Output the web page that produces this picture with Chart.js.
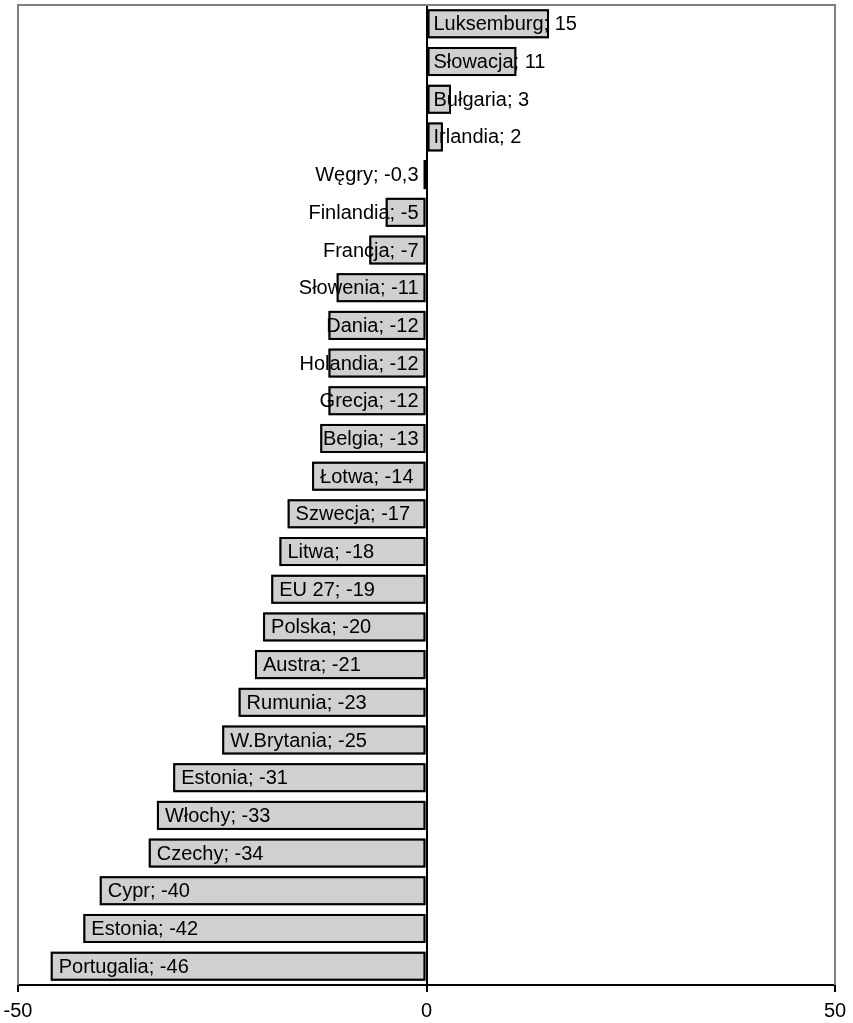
<!DOCTYPE html>
<html>
<head>
<meta charset="utf-8">
<script src="https://cdn.jsdelivr.net/npm/chart.js@4/dist/chart.umd.min.js"></script>
<style>
  html,body{margin:0;padding:0;background:#fff;}
  #wrap{width:853px;height:1023px;}
</style>
</head>
<body>
<div id="wrap"><canvas id="c" width="853" height="1023"></canvas></div>
<script>
const categories = ["Luksemburg","Słowacja","Bułgaria","Irlandia","Węgry","Finlandia","Francja","Słowenia","Dania","Holandia","Grecja","Belgia","Łotwa","Szwecja","Litwa","EU 27","Polska","Austra","Rumunia","W.Brytania","Estonia","Włochy","Czechy","Cypr","Estonia","Portugalia"];
const values = [15, 11, 3, 2, -0.3, -5, -7, -11, -12, -12, -12, -13, -14, -17, -18, -19, -20, -21, -23, -25, -31, -33, -34, -40, -42, -46];
const xTicks = [-50, 0, 50];

const FONT = '20px "Liberation Sans", Arial, sans-serif';

function fmt(v){ return String(v).replace('.', ','); }

const framePlugin = {
  id: 'frame',
  beforeDatasetsDraw(chart){
    const {ctx, chartArea:a} = chart;
    ctx.save();
    ctx.strokeStyle = '#808080';
    ctx.lineWidth = 2;
    ctx.beginPath();
    ctx.moveTo(a.left, a.bottom);
    ctx.lineTo(a.left, a.top);
    ctx.lineTo(a.right, a.top);
    ctx.lineTo(a.right, a.bottom);
    ctx.stroke();
    ctx.restore();
  }
};

const labelPlugin = {
  id: 'barLabels',
  afterDatasetsDraw(chart){
    const {ctx} = chart;
    const meta = chart.getDatasetMeta(0);
    const zero = chart.scales.x.getPixelForValue(0);
    ctx.save();
    ctx.font = FONT;
    ctx.fillStyle = '#000';
    ctx.textBaseline = 'middle';
    ctx.textAlign = 'left';
    meta.data.forEach((bar, i) => {
      const v = values[i];
      const txt = categories[i] + '; ' + fmt(v);
      const w = ctx.measureText(txt).width;
      let x;
      if (v >= 0) {
        x = zero + 7;
      } else {
        const left = Math.min(bar.x, bar.base);
        x = Math.min(left + 8, zero - 8 - w);
      }
      ctx.fillText(txt, x, bar.y + 1);
    });
    // re-stroke bar borders over the text, as in the original
    ctx.strokeStyle = '#000';
    ctx.lineWidth = 2;
    meta.data.forEach((bar) => {
      const l = Math.min(bar.x, bar.base), r = Math.max(bar.x, bar.base);
      const t = bar.y - bar.height/2, h = bar.height;
      ctx.strokeRect(l + 1, t + 1, r - l - 2, h - 2);
    });
    ctx.restore();
  }
};

new Chart(document.getElementById('c'), {
  type: 'bar',
  data: {
    labels: categories,
    datasets: [{
      data: values,
      backgroundColor: '#d0d0d0',
      borderColor: '#000',
      borderWidth: 2,
      borderSkipped: false,
      categoryPercentage: 1,
      barPercentage: 0.77
    }]
  },
  options: {
    indexAxis: 'y',
    responsive: false,
    animation: false,
    events: [],
    layout: { padding: { left: 18, right: 18, top: 5, bottom: 0 } },
    plugins: { legend: { display: false }, tooltip: { enabled: false } },
    scales: {
      x: {
        type: 'linear',
        min: -50,
        max: 50,
        afterBuildTicks(scale){ scale.ticks = xTicks.map(v => ({value: v})); },
        afterFit(scale){ scale.paddingLeft = 0; scale.paddingRight = 0; scale.height = 38; },
        border: { display: true, color: '#000', width: 2 },
        grid: {
          drawOnChartArea: true,
          color: (c) => (c.tick && c.tick.value === 0) ? '#000' : 'rgba(0,0,0,0)',
          lineWidth: 2,
          tickColor: '#000',
          tickWidth: 2,
          tickLength: 7
        },
        ticks: {
          color: '#000',
          font: { family: '"Liberation Sans", Arial, sans-serif', size: 20 },
          padding: 7,
          maxRotation: 0
        }
      },
      y: {
        display: false,
        offset: true
      }
    }
  },
  plugins: [framePlugin, labelPlugin]
});
</script>
</body>
</html>
